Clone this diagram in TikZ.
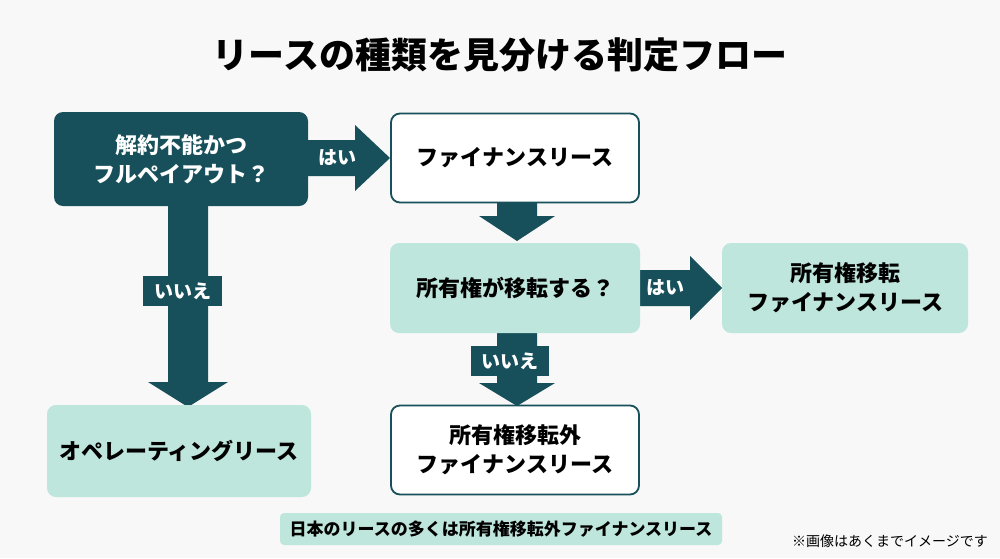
\documentclass[tikz,border=0pt]{standalone}
\usepackage{fontspec}
\newfontfamily\jp{Noto Sans CJK JP}
\definecolor{dk}{HTML}{17505A}
\definecolor{mint}{HTML}{BFE6DC}
\definecolor{bg}{HTML}{F7F8F7}
\begin{document}
\begin{tikzpicture}[x=1pt,y=-1pt,
  box/.style={rounded corners=9pt,align=center,font=\jp\bfseries\fontsize{22}{29}\selectfont},
  dark/.style={box,fill=dk,text=white},
  wht/.style={box,fill=white,draw=dk,line width=1.8pt,text=black},
  mnt/.style={box,fill=mint,text=black},
  arr/.style={fill=dk},
  lab/.style={font=\jp\bfseries\fontsize{19}{22}\selectfont,text=white}]
\fill[bg] (0,0) rectangle (1000,558);
\useasboundingbox (0,0) rectangle (1000,558);
\node[font=\jp\bfseries\fontsize{36}{42}\selectfont] (title) at (500,55) {リースの種類を見分ける判定フロー};
% arrows
\fill[arr] (306,140) -- (355,140) -- (355,125) -- (390,158) -- (355,191) -- (355,176) -- (306,176) -- cycle;
\node[lab] (y1) at (337,158) {はい};
\fill[arr] (497,202) -- (537,202) -- (537,216) -- (555,216) -- (517,241) -- (479,216) -- (497,216) -- cycle;
\fill[arr] (638,270) -- (690,270) -- (690,256) -- (722,288) -- (690,320) -- (690,306) -- (638,306) -- cycle;
\node[lab] (y2) at (665,288) {はい};
\fill[arr] (497,332) -- (537,332) -- (537,383) -- (555,383) -- (517,406) -- (479,383) -- (497,383) -- cycle;
\fill[arr] (471,346) rectangle (549,376);
\node[lab] (n2) at (510,361) {いいえ};
\fill[arr] (168,203) -- (208,203) -- (208,382) -- (228,382) -- (188,407) -- (148,382) -- (168,382) -- cycle;
\fill[arr] (143,276) rectangle (222,306);
\node[lab] (n1) at (183,291) {いいえ};
% boxes
\node[dark,minimum width=254pt,minimum height=94pt] (a) at (181,159) {解約不能かつ\\フルペイアウト？};
\node[wht,minimum width=248pt,minimum height=89pt] (b) at (515,158) {ファイナンスリース};
\node[mnt,minimum width=250pt,minimum height=90pt] (c) at (515,288) {所有権が移転する？};
\node[mnt,minimum width=246pt,minimum height=90pt] (d) at (845,288) {所有権移転\\ファイナンスリース};
\node[wht,minimum width=248pt,minimum height=89pt] (e) at (515,450) {所有権移転外\\ファイナンスリース};
\node[mnt,minimum width=264pt,minimum height=92pt] (f) at (179,451) {オペレーティングリース};
\node[mnt,rounded corners=4pt,minimum width=442pt,minimum height=32pt,font=\jp\bfseries\fontsize{17}{20}\selectfont] (note) at (501,529) {日本のリースの多くは所有権移転外ファイナンスリース};
\node[font=\jp\fontsize{14}{16}\selectfont] (foot) at (890,541) {※画像はあくまでイメージです};
\end{tikzpicture}
\end{document}
